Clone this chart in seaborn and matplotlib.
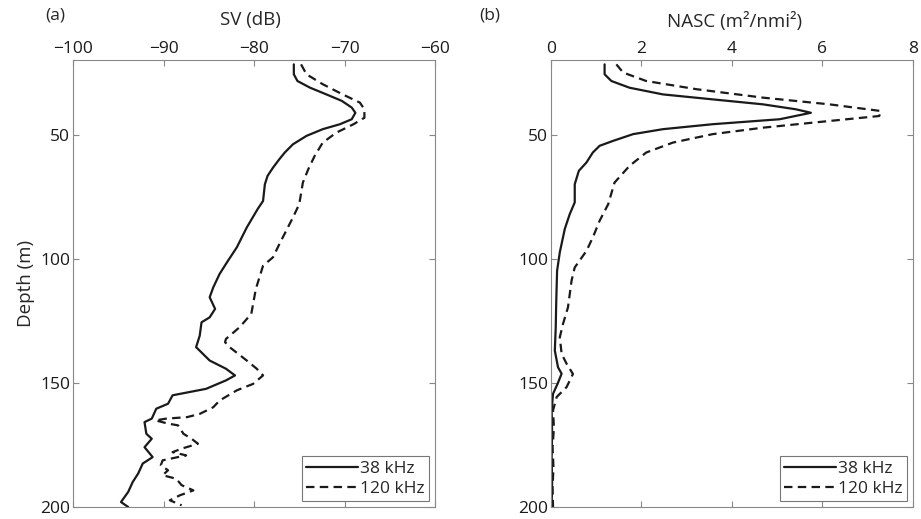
import matplotlib
matplotlib.use("Agg")
import matplotlib.pyplot as plt
import seaborn as sns
import numpy as np
import pandas as pd

# Panel (a): SV (dB) by depth
sv38_depth = [21.7, 25.7, 28.4, 31.1, 33.8, 36.4, 39.1, 41.2, 43.8, 45.8, 47.8, 50.5, 53.9,
              57.2, 59.9, 63.3, 66.6, 70, 76.7, 80, 87.4, 95.4, 101.5, 106.1, 111.5, 115.5,
              120.2, 123.6, 125.6, 131, 135.6, 141, 144.3, 147, 149, 152.4, 155, 158.4, 160.4,
              164.4, 165.8, 170.5, 172.5, 175.9, 179.9, 182.5, 186.5, 189.9, 193.9, 198, 200]
sv38 = [-75.6, -75.6, -75.2, -73.8, -72.0, -70.3, -69.2, -68.8, -69.2, -70.5, -72.4, -74.2,
        -75.7, -76.6, -77.2, -77.9, -78.5, -78.8, -79.0, -79.6, -80.8, -81.9, -83.0, -83.8,
        -84.5, -84.9, -84.3, -84.9, -85.8, -86.0, -86.4, -84.9, -83.1, -82.1, -83.1, -85.3,
        -89.0, -89.5, -90.8, -91.3, -92.1, -91.9, -91.3, -92.1, -91.2, -92.3, -92.8, -93.4,
        -93.9, -94.7, -93.9]

sv120_depth = [21.7, 25.7, 29.7, 33.8, 37.1, 39.8, 43.2, 45.8, 49.2, 53.2, 58.6, 63.9, 69.3,
               78, 83.4, 94.1, 99.4, 102.8, 107.5, 112.2, 118.2, 122.2, 127.6, 132.3, 133.6,
               135.6, 141, 144.3, 147, 150.4, 153, 157.1, 159.8, 162.5, 163.8, 164.4, 165.1,
               166.4, 167.1, 170.5, 172.5, 174.5, 176.5, 177.9, 179.2, 181.2, 183.2, 185.2,
               187.2, 188.6, 191.2, 193.3, 195.3, 197.3, 199.3]
sv120 = [-74.8, -74.2, -72.4, -70.2, -68.3, -67.8, -67.8, -69.0, -70.9, -72.4, -73.3, -74.0,
         -74.6, -75.0, -75.7, -77.2, -77.9, -79.0, -79.4, -79.8, -80.1, -80.3, -81.6, -83.1,
         -83.2, -82.7, -80.8, -79.7, -79.0, -80.1, -81.9, -83.8, -84.5, -86.0, -87.4, -89.7,
         -90.9, -89.5, -88.4, -87.8, -86.9, -86.2, -88.0, -89.0, -87.5, -90.1, -90.3, -89.5,
         -90.1, -88.6, -88.0, -86.7, -88.2, -89.3, -88.0]

# Panel (b): NASC by depth
nasc38_depth = [21.7, 25.7, 28.4, 31.1, 33.8, 35.8, 37.8, 39.8, 41.2, 43.8, 45.8, 47.8, 49.8,
                52.5, 54.5, 57.2, 61.2, 64.6, 70, 77.3, 82, 88, 97.4, 104.8, 118.2, 127.6, 137,
                143.7, 146.3, 150.4, 154.4, 161.1, 170, 180, 190, 200]
nasc38 = [1.19, 1.19, 1.34, 1.74, 2.48, 3.58, 4.69, 5.42, 5.75, 5.06, 3.58, 2.48, 1.82, 1.38,
          1.08, 0.93, 0.79, 0.62, 0.53, 0.53, 0.42, 0.31, 0.20, 0.14, 0.12, 0.11, 0.09, 0.16,
          0.24, 0.15, 0.05, 0.02, 0.03, 0.02, 0.03, 0.02]

nasc120_depth = [21.7, 25, 28.4, 31.7, 35.1, 37.8, 40.5, 42.5, 44.5, 47.2, 49.8, 53.2, 57.2,
                 62.6, 69.3, 78, 84.7, 91.4, 96.8, 103.5, 108.8, 119.6, 126.3, 131.6, 138.3,
                 142.3, 146.4, 151.7, 155.7, 161.1, 168, 176, 184, 192, 200]
nasc120 = [1.45, 1.60, 2.11, 3.22, 4.69, 6.16, 7.30, 7.26, 6.16, 4.69, 3.58, 2.70, 2.11, 1.74,
           1.41, 1.27, 1.08, 0.93, 0.79, 0.53, 0.46, 0.38, 0.27, 0.20, 0.24, 0.35, 0.49, 0.35,
           0.13, 0.05, 0.07, 0.04, 0.06, 0.04, 0.05]

freq_labels = ["38 kHz", "120 kHz"]


def make_df(d1, v1, d2, v2):
    return pd.concat([
        pd.DataFrame({"depth": d1, "value": v1, "freq": freq_labels[0]}),
        pd.DataFrame({"depth": d2, "value": v2, "freq": freq_labels[1]}),
    ], ignore_index=True)


df_sv = make_df(sv38_depth, sv38, sv120_depth, sv120)
df_nasc = make_df(nasc38_depth, nasc38, nasc120_depth, nasc120)

sns.set_theme(style="white")
plt.rcParams["font.family"] = ["Open Sans", "DejaVu Sans"]

fig = plt.figure(figsize=(9.21, 5.19), dpi=100)
ax1 = fig.add_axes([0.0793, 0.0231, 0.393, 0.861])
ax2 = fig.add_axes([0.598, 0.0231, 0.393, 0.861])

for ax, df, xlim, xticks in [
    (ax1, df_sv, (-100, -60), [-100, -90, -80, -70, -60]),
    (ax2, df_nasc, (0, 8), [0, 2, 4, 6, 8]),
]:
    sns.lineplot(data=df, x="value", y="depth", hue="freq", style="freq",
                 palette=["#1a1a1a", "#1a1a1a"], dashes=["", (3.8, 2.4)],
                 sort=False, estimator=None, orient="y", linewidth=1.6, ax=ax)
    ax.set_xlim(*xlim)
    ax.set_ylim(200, 20)
    ax.set_xticks(xticks)
    ax.set_yticks([50, 100, 150, 200])
    ax.xaxis.tick_top()
    ax.tick_params(axis="both", direction="in", length=4, width=0.8, color="#888888",
                   labelsize=12.5, colors="#1a1a1a", top=True, bottom=True,
                   left=True, right=True, labelbottom=False, labeltop=True, pad=2)
    ax.tick_params(axis="y", labelright=False)
    ax.set_xlabel("")
    ax.set_ylabel("")
    for sp in ax.spines.values():
        sp.set_color("#888888")
        sp.set_linewidth(0.8)
    leg = ax.legend(loc="lower right", fontsize=12.5, frameon=True, fancybox=False,
                    handlelength=3.0, handletextpad=0.1, borderpad=0.25,
                    labelspacing=0.2, borderaxespad=0.35)
    leg.get_frame().set_edgecolor("#555555")
    leg.get_frame().set_linewidth(0.8)
    leg.set_title(None)

ax1.set_ylabel("Depth (m)", fontsize=13.5, labelpad=4)

fig.text(250 / 921, 1 - 20 / 519, "SV (dB)", ha="center", va="center", fontsize=13.5)
fig.text(735 / 921, 1 - 22 / 519, "NASC (m²/nmi²)", ha="center", va="center", fontsize=13.5)
fig.text(55 / 921, 1 - 15 / 519, "(a)", ha="center", va="center", fontsize=12.5)
fig.text(490 / 921, 1 - 15 / 519, "(b)", ha="center", va="center", fontsize=12.5)

fig.savefig("out.png", dpi=100)
